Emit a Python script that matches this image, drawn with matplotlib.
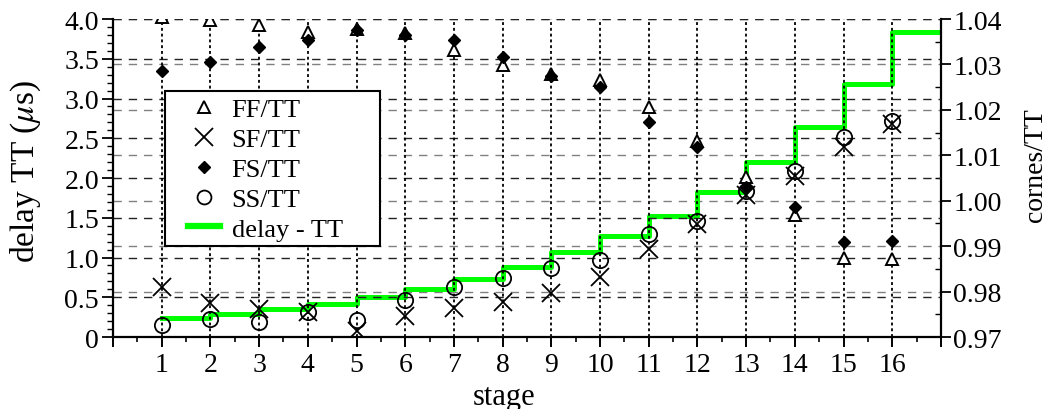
import matplotlib
matplotlib.use("Agg")
import matplotlib.pyplot as plt
import numpy as np
from matplotlib.ticker import MultipleLocator, FuncFormatter
from matplotlib.lines import Line2D
from matplotlib.patches import Rectangle

plt.rcParams['font.family'] = ['Liberation Serif', 'DejaVu Serif']
plt.rcParams['mathtext.fontset'] = 'stix'

stages = [1, 2, 3, 4, 5, 6, 7, 8, 9, 10, 11, 12, 13, 14, 15, 16]
ff_tt = [4.02, 3.99, 3.92, 3.84, 3.88, 3.82, 3.61, 3.42, 3.31, 3.23, 2.89, 2.47, 2.01, 1.53, 1.00, 0.98]
sf_tt = [0.625, 0.43, 0.35, 0.31, 0.08, 0.27, 0.37, 0.44, 0.55, 0.75, 1.11, 1.42, 1.78, 2.03, 2.39, 2.68]
fs_tt = [3.35, 3.46, 3.65, 3.73, 3.86, 3.80, 3.73, 3.52, 3.28, 3.14, 2.70, 2.39, 1.885, 1.63, 1.19, 1.21]
ss_tt = [0.15, 0.23, 0.185, 0.32, 0.22, 0.47, 0.625, 0.74, 0.865, 0.97, 1.30, 1.465, 1.84, 2.09, 2.515, 2.72]
delay_tt = [0.9742, 0.9751, 0.9762, 0.9773, 0.9787, 0.9806, 0.9828, 0.9853, 0.9888, 0.9922,
            0.9967, 1.0020, 1.0085, 1.0162, 1.0257, 1.0371]
x_max = 17

fig = plt.figure(figsize=(10.53, 4.10), dpi=100)
ax = fig.add_axes([0.1073, 0.1756, 0.7863, 0.7756])
ax2 = ax.twinx()
ax.set_zorder(ax2.get_zorder() + 1)
ax.patch.set_visible(False)

# grids
for v in np.arange(0.5, 4.01, 0.5):
    ax.axhline(v, color='#222222', lw=1.0, dashes=(6, 5), zorder=0)
for v in np.arange(0.97, 1.0401, 0.01):
    ax2.axhline(v, color='#808080', lw=1.0, dashes=(6, 5), zorder=0)
for s in stages:
    ax.axvline(s, color='black', lw=1.3, dashes=(1.6, 1.6), zorder=0.5)

# green step line
sx = stages + [x_max]
sy = delay_tt + [delay_tt[-1]]
ax2.step(sx, sy, where='post', color='#00ff00', lw=3.6, zorder=2)

# markers
ax.plot(stages, ff_tt, ls='none', marker='^', ms=8.5, mfc='white', mec='black', mew=1.4, zorder=3)
ax.plot(stages, fs_tt, ls='none', marker='D', ms=6.6, mfc='black', mec='black', zorder=4)
ax.plot(stages, sf_tt, ls='none', marker='x', ms=13, mec='black', mew=1.3, zorder=5)
ax.plot(stages, ss_tt, ls='none', marker='o', ms=11, mfc='none', mec='black', mew=1.3, zorder=5)

ax.set_xlim(0, x_max)
ax.set_ylim(0, 4.0)
ax2.set_ylim(0.97, 1.04)

ax.set_xticks(range(0, x_max + 1))
ax.set_xticklabels([''] + [str(s) for s in stages] + [''])
ax.xaxis.set_minor_locator(MultipleLocator(0.5))
ax.yaxis.set_major_locator(MultipleLocator(0.5))
ax.yaxis.set_minor_locator(MultipleLocator(0.1))
ax.yaxis.set_major_formatter(FuncFormatter(lambda v, p: '0' if abs(v) < 1e-9 else f'{v:.1f}'))
ax2.yaxis.set_major_locator(MultipleLocator(0.01))
ax2.yaxis.set_minor_locator(MultipleLocator(0.005))
ax2.yaxis.set_major_formatter(FuncFormatter(lambda v, p: f'{v:.2f}'))

for a in (ax, ax2):
    a.spines['top'].set_visible(False)
ax.spines['right'].set_visible(False)
ax2.spines['left'].set_visible(False)
ax2.spines['bottom'].set_visible(False)
for sp in ('left', 'bottom'):
    ax.spines[sp].set_linewidth(1.6)
ax2.spines['right'].set_linewidth(1.6)

ax.tick_params(axis='x', which='major', direction='out', length=7, width=1.4, labelsize=20, pad=4)
ax.tick_params(axis='x', which='minor', direction='out', length=3.5, width=1.2)
ax.tick_params(axis='y', which='major', direction='out', length=8, width=1.3, labelsize=20, pad=2)
ax.tick_params(axis='y', which='minor', direction='out', length=4, width=1.0)
ax2.tick_params(axis='y', which='major', direction='out', length=7, width=1.3, labelsize=20, pad=2)
ax2.tick_params(axis='y', which='minor', direction='in', length=4, width=1.0)

ax.set_xlabel('stage', fontsize=22)
ax.xaxis.label.set_va('baseline')
ax.xaxis.set_label_coords(0.472, -0.210)
ax.set_ylabel(r'delay TT ($\mu$s)', fontsize=24)
ax.yaxis.set_label_coords(-0.084, 0.525)
ax2.set_ylabel('cornes/TT', fontsize=20)
ax2.yaxis.set_label_coords(1.099, 0.544)

# legend box
box = Rectangle((0.0628, 0.286), 0.2597, 0.4874, transform=ax.transAxes,
                facecolor='white', edgecolor='black', lw=1.5, zorder=6)
ax.add_patch(box)

handles = [
    Line2D([], [], ls='none', marker='^', ms=8, mfc='white', mec='black', mew=1.4),
    Line2D([], [], ls='none', marker='x', ms=13, mec='black', mew=1.3),
    Line2D([], [], ls='none', marker='D', ms=6.6, mfc='black', mec='black'),
    Line2D([], [], ls='none', marker='o', ms=10, mfc='none', mec='black', mew=1.3),
    Line2D([], [], color='#00ff00', lw=4.5),
]
labels = ['FF/TT', 'SF/TT', 'FS/TT', 'SS/TT', 'delay - TT']
leg = ax.legend(handles, labels, loc='upper left', bbox_to_anchor=(0.0906, 0.752),
                borderaxespad=0, fontsize=19, frameon=False, labelspacing=0.24,
                handlelength=1.2, handletextpad=0.45, borderpad=0)
leg.set_zorder(7)

fig.savefig('out.png', dpi=100)
